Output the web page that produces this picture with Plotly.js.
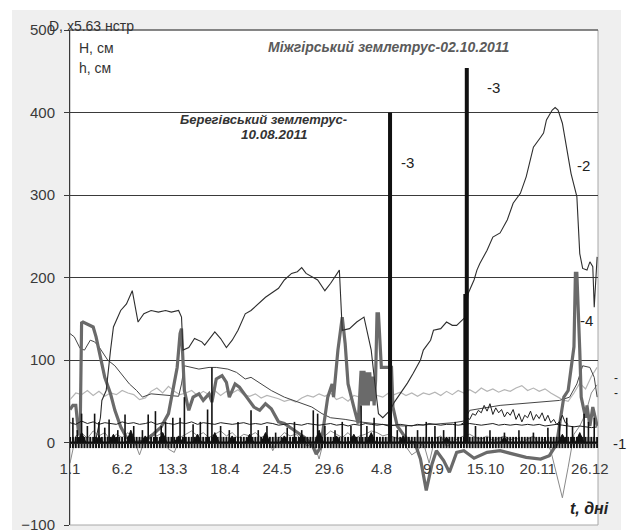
<!DOCTYPE html>
<html><head><meta charset="utf-8">
<script src="https://cdn.plot.ly/plotly-3.0.1.min.js"></script>
<style>html,body{margin:0;padding:0;background:#fff}</style>
</head><body><div id="chart" style="width:629px;height:530px"></div>
<script>
// x = day of year 2011 (0 = 1 January)
const tickDays = [0, 36, 71, 107, 143, 179, 215, 251, 287, 323, 359];
const tickLabels = ['1.1', '6.2', '13.3', '18.4', '24.5', '29.6', '4.8', '9.9', '15.10', '20.11', '26.12'];
const yTicks = [-100, 0, 100, 200, 300, 400, 500];

// series 2 (thin dark line, label "-2")
const s2Day = [18,21,22,25,28,30,35,39,43,45,47,51,56,61,66,70,75,77,78,82,86,91,93,100,104,108,112,116,121,125,130,135,139,144,148,153,157,160,163,167,171,176,180,186,188,193,198,203,205,208,210,213,216,221,224,228,233,237,242,244,249,251,256,260,264,267,273,275,279,281,283,288,292,297,302,306,311,315,320,325,327,329,333,335,337,340,342,344,346,350,351,352,354,357,359,361,362,364];
const s2Val = [5,30,51,63,112,140,160,168,184,164,146,156,160,158,160,158,160,152,112,115,126,122,118,134,126,115,124,136,156,160,168,176,181,187,197,205,207,212,205,201,197,184,193,209,136,138,146,152,136,112,80,35,30,39,49,59,72,84,100,112,124,136,138,146,142,142,152,181,197,209,217,233,249,254,270,290,302,322,358,370,375,391,403,406,403,387,367,350,326,298,265,229,211,209,219,213,164,225];

// series 5 (thin dark grey line starting at ~130)
const s5Day = [0,3,7,10,14,17,20,23,26,31,37,41,46,50,56,66,75,77,79,89,96,101,109,115,121,125,130,139,148,158,167,174,180,190,200,215,230,250,265,272,276,297,322,338,345,350,354,359,362,364];
const s5Val = [132,128,114,112,124,122,116,108,100,93,79,71,63,55,59,57,56,71,93,89,91,91,89,85,77,79,73,63,55,49,43,35,30,28,25,22,20,22,24,26,39,45,49,51,55,71,93,91,79,55];

// series 4 (thick grey line, label "-4")
const s4Day = [0,2,4,6,7,8,9,16,18,21,24,28,31,35,39,45,52,58,63,68,71,74,76,77,78,79,82,85,89,92,96,98,101,105,108,110,114,117,122,127,131,135,139,144,148,155,162,167,170,173,178,181,182,185,188,190,192,196,199,201,202,203,204,205,206,207,208,209,210,211,212,213,215,222,223,226,230,235,238,242,246,250,253,258,262,267,272,279,288,297,306,315,325,331,336,341,344,348,349,350,352,353,356,357,359,361,364];
const s4Val = [40,45,45,10,10,145,146,140,128,104,79,59,39,19,6,0,2,11,19,35,63,91,132,138,100,63,39,55,59,51,59,49,77,81,73,55,71,67,55,43,39,47,41,25,23,15,6,-2,-14,-6,55,71,55,112,152,120,71,43,23,87,45,87,45,85,45,85,50,80,45,75,156,156,91,91,43,20,10,0,0,-20,-58,-26,-10,-22,-36,-12,-10,-19,-12,-10,-14,-18,-20,-16,-2,55,63,116,205,205,112,55,30,45,20,43,20];

// 4-day sampled series (days 0,4,...,364)
const lightGreyVal = [52,60,58,63,57,62,56,60,58,63, 60,58,52,54,62,66,60,68,62,58, 60,63,57,62,58,63,57,62,60,64, 58,56,59,54,57,55,53,50,52,49, 54,57,55,59,56,60,52,55,50,57, 55,58,53,57,55,60,58,61,57,60, 56,60,58,61,57,62,58,63,60,64, 60,66,62,65,61,64,62,66,69,63, 66,62,65,60,56,52,50,60,72,65, 80,91];
const baseLineVal = [24,22,26,23,25,22,24,23,22,25, 23,24,22,23,25,22,24,23,22,24, 23,25,22,24,23,22,24,23,22,23, 24,22,23,22,24,23,21,22,23,22, 21,23,22,21,22,23,21,22,20,22, 21,23,22,21,22,20,21,22,21,20, 22,21,23,22,21,22,22,21,22,23, 22,21,22,23,21,22,21,22,21,22, 21,22,20,21,22,21,20,19,20,19, 18,19];
const thinGreyVal = [-25,8,12,5,14,8,12,3,10,6, 12,4,-15,5,10,8,12,-8,-12,6, 10,14,8,12,6,10,14,8,12,5, 10,8,12,6,10,-10,5,12,8,10, 4,-5,2,-20,8,14,10,6,12,4, 8,10,14,12,8,10,6,4,-5,-15, -10,0,-25,5,8,-5,0,5,8,10, 6,4,8,2,5,8,3,6,0,4, 8,-2,5,-10,-40,-67,-30,10,20,35, 60,70];

// jagged black series Oct–Nov (days 270,272,...,344)
const jagVal = [22,24,30,28,35,33,39,36,45,38, 47,34,42,36,40,31,37,33,40,28, 35,25,33,30,38,27,34,29,36,26, 33,24,28,22,25,33,24,22];

// series D ("-3"): small spikes and the two earthquake spikes
const dSpikeDay = [2,5,8,12,17,20,24,27,33,38,44,50,54,59,63,66,71,76,79,85,90,95,98,104,110,116,125,130,136,142,150,155,160,168,171,176,183,188,194,201,205,210,226,232,240,246,252,258,266,280,290,300,310,320,330,338,343,347,355,358,362];
const dSpikeVal = [30,15,35,20,35,25,18,28,15,34,20,15,34,38,20,25,30,30,55,22,25,40,91,20,15,25,39,15,20,12,18,25,15,39,35,20,15,25,20,45,20,30,15,20,15,25,20,15,25,20,15,12,15,12,18,25,30,20,35,25,30];
const bigDay = [221, 273, 274];
const bigVal = [400, 180, 454];
const triDay = [8,20,30,42,52,64,75,88,100,112,124,135,148,160,172,184,196,208,230,260,300,340,352];
const triVal = [12,8,10,15,8,12,8,10,12,8,10,12,8,10,15,8,10,12,8,6,6,10,12];
const s1Level = 0; // series 1 lies on the zero line

// ---- build helpers ----
const step4Days = lightGreyVal.map((_, i) => i * 4);
const jagDays = jagVal.map((_, i) => 270 + i * 2);
const combDays = []; for (let d = 0; d <= 364; d += 2) combDays.push(d);
function spikes(days, vals, base) {
  const x = [], y = [];
  days.forEach((d, i) => { x.push(d, d, null); y.push(base, vals[i], null); });
  return {x, y};
}
function tris(days, vals) {
  const x = [], y = [];
  days.forEach((d, i) => { x.push(d - 3, d, d + 3, null); y.push(0, vals[i], 0, null); });
  return {x, y};
}
const sp = spikes(dSpikeDay, dSpikeVal, 0);
const bg = spikes(bigDay, bigVal, 0);
const tr = tris(triDay, triVal);

const traces = [
  {x: step4Days, y: lightGreyVal, mode: 'lines', line: {color: '#b5b5b5', width: 1.2}},
  {x: step4Days, y: thinGreyVal, mode: 'lines', line: {color: '#8a8a8a', width: 1}},
  {x: s5Day, y: s5Val, mode: 'lines', line: {color: '#454545', width: 1}},
  {x: s4Day, y: s4Val, mode: 'lines', line: {color: '#6a6a6a', width: 3.2}},
  {x: step4Days, y: baseLineVal, mode: 'lines', line: {color: '#1e1e1e', width: 1}},
  {x: jagDays, y: jagVal, mode: 'lines', line: {color: '#1e1e1e', width: 1}},
  {x: s2Day, y: s2Val, mode: 'lines', line: {color: '#2e2e2e', width: 1.1}},
  {x: sp.x, y: sp.y, mode: 'lines', line: {color: '#111', width: 1.6}},
  {x: tr.x, y: tr.y, mode: 'lines', fill: 'toself', fillcolor: '#111', line: {color: '#111', width: 1}},
  {x: combDays, y: combDays.map(() => s1Level), mode: 'lines+markers', line: {color: '#111', width: 2},
   marker: {symbol: 'line-ns', size: 8, color: '#111', line: {color: '#111', width: 2}}},
  {x: bg.x, y: bg.y, mode: 'lines', line: {color: '#111', width: 4}}
].map(t => Object.assign({type: 'scatter', hoverinfo: 'skip', showlegend: false}, t));

const F = 'Liberation Sans, Arial, sans-serif';
function px(x) { return (x - 70) / 528; }
function py(y) { return (525 - y) / 495; }
function ann(text, x, y, size, color, xanchor) {
  return {text, x: px(x), y: py(y), xref: 'paper', yref: 'paper', showarrow: false,
    xanchor: xanchor || 'left', yanchor: 'middle', font: {family: F, size, color}};
}

const layout = {
  width: 629, height: 530,
  margin: {l: 70, r: 31, t: 30, b: 5},
  paper_bgcolor: '#efefef', plot_bgcolor: '#ffffff',
  showlegend: false,
  xaxis: {range: [0, 364.6], anchor: 'free', position: 1 / 6, tickmode: 'array',
    tickvals: tickDays, ticktext: tickLabels, ticks: '', showgrid: false, zeroline: false,
    showline: true, linecolor: '#222', ticklabelstandoff: 12,
    tickfont: {family: F, size: 15, color: '#3a3a3a'}},
  yaxis: {range: [-100, 500], tickmode: 'array', tickvals: yTicks, showgrid: true,
    gridcolor: '#3a3a3a', gridwidth: 1, zeroline: false, showline: true, linecolor: '#3a3a3a',
    ticks: 'outside', ticklen: 5, tickcolor: '#3a3a3a', ticklabelstandoff: 6,
    ticklabeloverflow: 'allow',
    tickfont: {family: F, size: 15, color: '#3a3a3a'}},
  shapes: [
    {type: 'rect', xref: 'paper', yref: 'paper', x0: 0, x1: 1, y0: 0, y1: 1, layer: 'below',
     line: {color: '#a8a8a8', width: 1}},
    {type: 'line', xref: 'paper', yref: 'paper', x0: 0, x1: 1, y0: 1, y1: 1, layer: 'above',
     line: {color: '#3a3a3a', width: 1}},
    {type: 'rect', xref: 'paper', yref: 'paper', x0: px(0), x1: px(12), y0: py(540), y1: py(-5),
     layer: 'below', line: {width: 0}, fillcolor: '#ffffff'},
    {type: 'rect', xref: 'paper', yref: 'paper', x0: px(0), x1: px(640), y0: py(10), y1: py(-5),
     layer: 'below', line: {width: 0}, fillcolor: '#ffffff'},
    {type: 'rect', xref: 'paper', yref: 'paper', x0: px(621), x1: px(640), y0: py(540), y1: py(-5),
     layer: 'below', line: {width: 0}, fillcolor: '#ffffff'}
  ],
  annotations: [
    ann('D, x5.63 нстр', 47, 26, 14, '#333'),
    ann('H, см', 77, 48, 14, '#333'),
    ann('h, см', 77, 68, 14, '#333'),
    ann('<b><i>Міжгірський землетрус-02.10.2011</i></b>', 388, 47, 14, '#5a5a5a', 'center'),
    ann('<b><i>Берегівський землетрус-</i></b>', 263, 119, 13, '#333', 'center'),
    ann('<b><i>10.08.2011</i></b>', 274, 134, 13.5, '#333', 'center'),
    ann('-3', 399, 163, 15, '#222'),
    ann('-3', 485, 88, 15, '#222'),
    ann('-2', 575, 165, 15, '#222'),
    ann('-4', 578, 320, 15, '#222'),
    ann('-1', 611, 443, 15, '#222'),
    ann('-', 612, 378, 12, '#222'),
    ann('-', 612, 393, 12, '#222'),
    ann('<b><i>t, дні</i></b>', 568, 508, 16, '#222')
  ]
};

Plotly.newPlot('chart', traces, layout, {staticPlot: true, displayModeBar: false});
</script></body></html>
